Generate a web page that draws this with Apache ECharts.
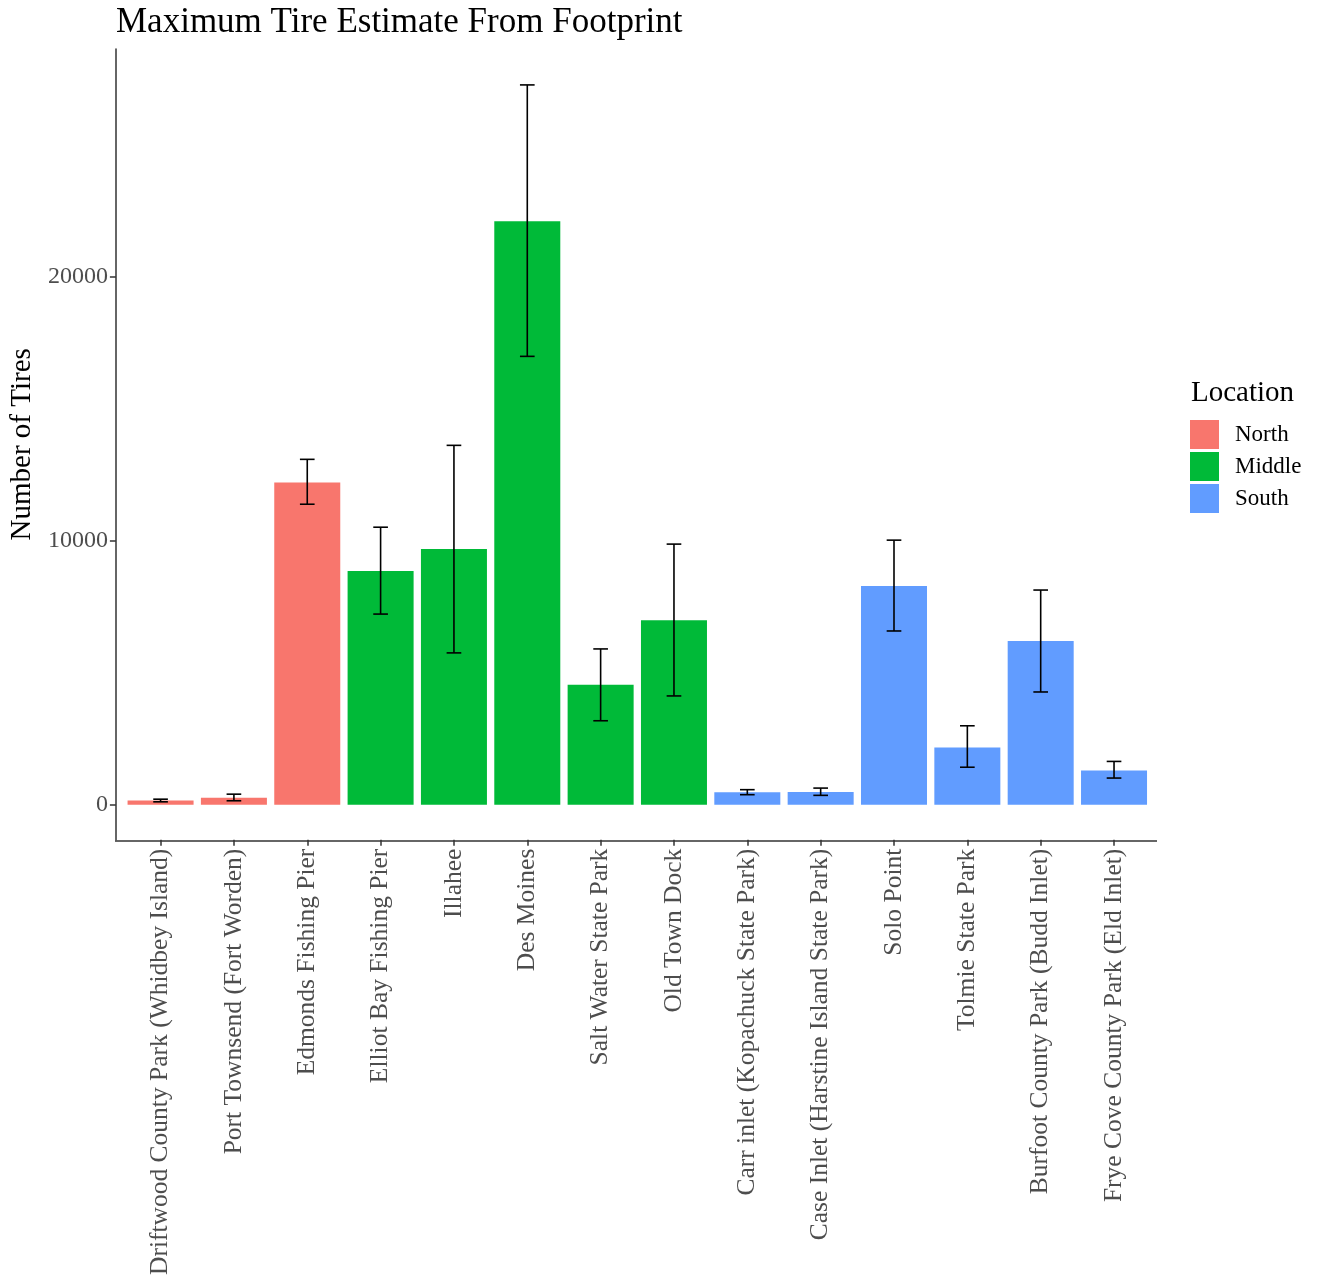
<!DOCTYPE html>
<html>
<head>
<meta charset="utf-8">
<script src="https://cdn.jsdelivr.net/npm/echarts@6/dist/echarts.min.js"></script>
<style>
  html, body { margin: 0; padding: 0; background: #fff; }
  #chart { width: 1317px; height: 1278px; }
</style>
</head>
<body>
<div id="chart"></div>
<script>
// Sites along the sound, left to right
const sites = [
  'Driftwood County Park (Whidbey Island)',
  'Port Townsend (Fort Worden)',
  'Edmonds Fishing Pier',
  'Elliot Bay Fishing Pier',
  'Illahee',
  'Des Moines',
  'Salt Water State Park',
  'Old Town Dock',
  'Carr inlet (Kopachuck State Park)',
  'Case Inlet (Harstine Island State Park)',
  'Solo Point',
  'Tolmie State Park',
  'Burfoot County Park (Budd Inlet)',
  'Frye Cove County Park (Eld Inlet)'
];
const siteLocation = ['North', 'North', 'North', 'Middle', 'Middle', 'Middle', 'Middle', 'Middle',
                      'South', 'South', 'South', 'South', 'South', 'South'];
// Maximum tire estimate and its lower / upper bounds
const tireEstimate = [160, 260, 12200, 8850, 9680, 22100, 4540, 6990, 470, 480, 8280, 2170, 6200, 1300];
const errorLow     = [110, 150, 11380, 7220, 5750, 16980, 3180, 4120, 380, 355, 6580, 1420, 4270, 1010];
const errorHigh    = [210, 400, 13080, 10510, 13610, 27260, 5900, 9870, 570, 630, 10020, 2990, 8130, 1640];

const locations = ['North', 'Middle', 'South'];
const locationColors = ['#F8766D', '#00BA38', '#619CFF'];
const yTicks = [0, 10000, 20000];

const serif = '"Liberation Serif", "DejaVu Serif", serif';

const barSeries = locations.map((loc, li) => ({
  name: loc,
  type: 'bar',
  stack: 'site',
  barWidth: '90%',
  itemStyle: { color: locationColors[li] },
  emphasis: { disabled: true },
  data: tireEstimate.map((v, i) => siteLocation[i] === loc ? v : null)
}));

const errorSeries = {
  type: 'custom',
  name: 'error',
  silent: true,
  z: 5,
  data: sites.map((s, i) => [i, errorLow[i], errorHigh[i]]),
  renderItem: function (params, api) {
    const x = api.value(0);
    const lo = api.coord([x, api.value(1)]);
    const hi = api.coord([x, api.value(2)]);
    const half = api.size([1, 0])[0] * 0.1;
    const style = { stroke: '#000', lineWidth: 1.6 };
    return {
      type: 'group',
      children: [
        { type: 'line', shape: { x1: lo[0], y1: lo[1], x2: hi[0], y2: hi[1] }, style },
        { type: 'line', shape: { x1: lo[0] - half, y1: lo[1], x2: lo[0] + half, y2: lo[1] }, style },
        { type: 'line', shape: { x1: hi[0] - half, y1: hi[1], x2: hi[0] + half, y2: hi[1] }, style }
      ]
    };
  }
};

const chart = echarts.init(document.getElementById('chart'));
chart.setOption({
  backgroundColor: '#fff',
  animation: false,
  title: [
    {
      text: 'Maximum Tire Estimate From Footprint',
      left: 111, top: 0,
      textStyle: { fontFamily: serif, fontSize: 35, fontWeight: 'normal', color: '#000' }
    },
    {
      text: 'Location',
      left: 1186, top: 374,
      textStyle: { fontFamily: serif, fontSize: 29, fontWeight: 'normal', color: '#000' }
    }
  ],
  legend: {
    data: locations,
    orient: 'vertical',
    left: 1190, top: 420,
    padding: 0,
    itemWidth: 29, itemHeight: 29,
    itemGap: 3,
    icon: 'rect',
    selectedMode: false,
    textStyle: { fontFamily: serif, fontSize: 23, color: '#000', padding: [5, 0, 0, 11] }
  },
  grid: { left: 122.3, right: 166.3, top: 49, bottom: 437 },
  xAxis: {
    type: 'category',
    data: sites,
    axisLine: { show: false, onZero: false },
    axisTick: { show: true, length: 6, alignWithLabel: true, lineStyle: { color: '#333', width: 1.5 } },
    axisLabel: {
      rotate: 90, margin: 9, interval: 0,
      fontFamily: serif, fontSize: 25.5, color: '#4D4D4D'
    },
    splitLine: { show: false }
  },
  yAxis: {
    type: 'value',
    min: -1323, max: 28620,
    offset: 8,
    name: 'Number of Tires',
    nameLocation: 'middle',
    nameRotate: 90,
    nameGap: 65,
    nameTextStyle: { fontFamily: serif, fontSize: 29, color: '#000' },
    axisLine: { show: true, onZero: false, lineStyle: { color: '#333', width: 1.5 } },
    axisTick: { show: true, length: 6, customValues: yTicks, lineStyle: { color: '#333', width: 1.5 } },
    axisLabel: {
      customValues: yTicks, margin: 8,
      formatter: (v) => String(v),
      fontFamily: serif, fontSize: 24, color: '#4D4D4D'
    },
    splitLine: { show: false }
  },
  graphic: [{
    type: 'line',
    shape: { x1: 115, y1: 841, x2: 1157, y2: 841 },
    style: { stroke: '#333', lineWidth: 1.5 },
    z: 10
  }],
  series: barSeries.concat([errorSeries])
});
</script>
</body>
</html>
